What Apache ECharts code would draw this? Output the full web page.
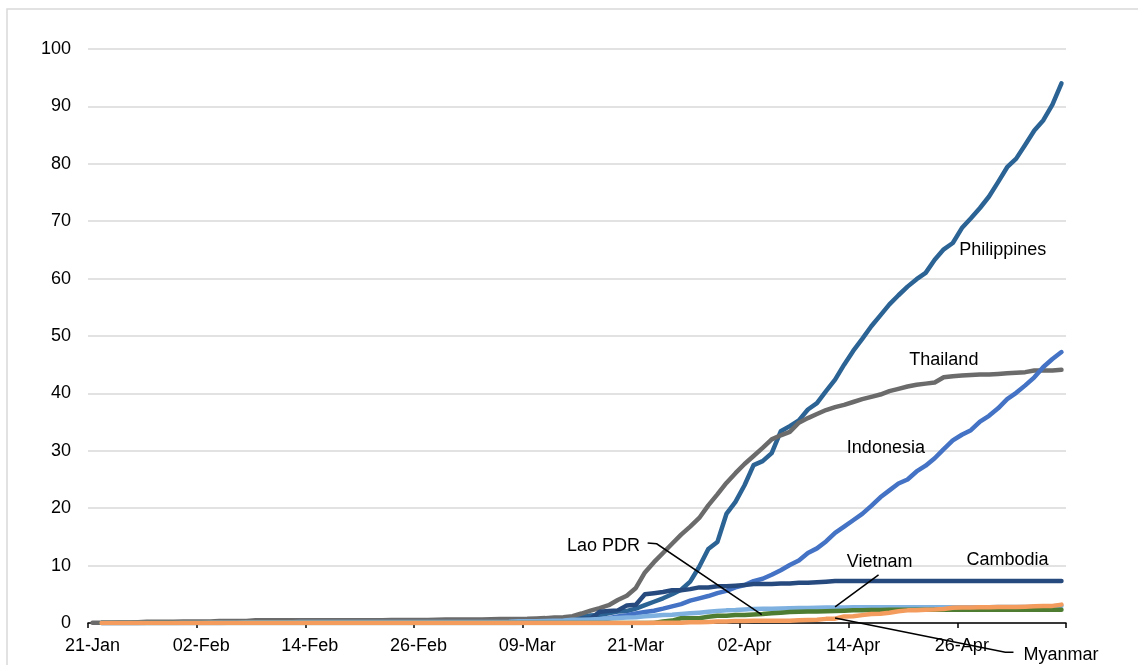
<!DOCTYPE html>
<html>
<head>
<meta charset="utf-8">
<script src="https://cdn.jsdelivr.net/npm/echarts@6/dist/echarts.min.js"></script>
<style>
html,body{margin:0;padding:0;background:#fff;}
#chart{width:1138px;height:665px;}
</style>
</head>
<body>
<div id="chart"></div>
<script>
// Categories: one per day, 21-Jan to 07-May
const dates = [
'21-Jan','22-Jan','23-Jan','24-Jan','25-Jan','26-Jan','27-Jan','28-Jan','29-Jan','30-Jan','31-Jan',
'01-Feb','02-Feb','03-Feb','04-Feb','05-Feb','06-Feb','07-Feb','08-Feb','09-Feb','10-Feb','11-Feb','12-Feb','13-Feb','14-Feb','15-Feb','16-Feb','17-Feb','18-Feb','19-Feb','20-Feb','21-Feb','22-Feb','23-Feb','24-Feb','25-Feb','26-Feb','27-Feb','28-Feb','29-Feb',
'01-Mar','02-Mar','03-Mar','04-Mar','05-Mar','06-Mar','07-Mar','08-Mar','09-Mar','10-Mar','11-Mar','12-Mar','13-Mar','14-Mar','15-Mar','16-Mar','17-Mar','18-Mar','19-Mar','20-Mar','21-Mar','22-Mar','23-Mar','24-Mar','25-Mar','26-Mar','27-Mar','28-Mar','29-Mar','30-Mar','31-Mar',
'01-Apr','02-Apr','03-Apr','04-Apr','05-Apr','06-Apr','07-Apr','08-Apr','09-Apr','10-Apr','11-Apr','12-Apr','13-Apr','14-Apr','15-Apr','16-Apr','17-Apr','18-Apr','19-Apr','20-Apr','21-Apr','22-Apr','23-Apr','24-Apr','25-Apr','26-Apr','27-Apr','28-Apr','29-Apr','30-Apr',
'01-May','02-May','03-May','04-May','05-May','06-May','07-May'
];

const yTicks = [0,10,20,30,40,50,60,70,80,90,100];

const philippines = [
null,0,0,0,0,0,0,0,0,0.01,0.01,0.01,0.02,0.02,0.02,
0.03,0.03,0.03,0.03,0.03,0.03,0.03,0.03,0.03,0.03,0.03,0.03,0.03,0.03,0.03,0.03,0.03,0.03,0.03,0.03,0.03,0.03,0.03,0.03,0.03,0.03,0.03,0.03,0.03,0.03,0.03,
0.05,0.09,0.18,0.22,0.3,0.45,0.48,0.59,1.03,1.3,1.4,1.7,2.0,2.1,
2.5,3.1,3.7,4.3,5.0,5.8,7.2,9.8,12.9,14.1,
19.0,21.1,24.0,27.5,28.2,29.6,33.4,34.3,35.3,37.2,
38.3,40.4,42.4,45.0,47.4,49.5,51.7,53.6,55.5,57.1,
58.6,59.9,61.0,63.3,65.1,66.2,68.8,70.5,72.3,74.3,
76.8,79.4,80.9,83.3,85.8,87.6,90.3,94.0
];

const thailand = [
0.06,0.06,0.06,0.07,0.07,0.12,0.2,0.2,0.2,0.2,
0.27,0.27,0.27,0.27,0.36,0.36,0.36,0.36,0.46,0.46,
0.46,0.46,0.47,0.47,0.5,0.5,0.5,0.5,0.5,0.5,
0.5,0.5,0.5,0.52,0.52,0.53,0.53,0.53,0.55,0.6,
0.6,0.62,0.62,0.63,0.66,0.68,0.71,0.71,0.72,0.77,
0.85,0.98,1.0,1.2,1.65,2.15,2.6,3.1,4.0,4.75,
6.1,8.8,10.6,12.2,13.8,15.4,16.8,18.3,20.5,22.4,
24.4,26.1,27.7,29.1,30.5,32.0,32.7,33.3,34.9,35.7,
36.4,37.1,37.6,38.0,38.5,39.0,39.4,39.8,40.4,40.8,
41.2,41.5,41.7,41.9,42.8,43.0,43.1,43.2,43.3,43.3,
43.4,43.5,43.6,43.7,44.0,44.0,44.0,44.1
];

const indonesia = [
null,0,0,0,0,0,0,0,0,0,0,0,0,0,0,0,0,0,0,0,
0,0,0,0,0,0,0,0,0,0,0,0,0,0,0,0,0,0,0,0,0,
0.01,0.01,0.01,0.01,0.01,0.01,0.02,
0.07,0.1,0.13,0.13,0.25,0.35,0.43,0.5,0.64,0.84,1.14,1.36,
1.66,1.9,2.14,2.5,2.9,3.3,3.9,4.3,4.7,5.2,
5.6,6.2,6.6,7.3,7.7,8.4,9.2,10.1,10.9,12.2,
13.0,14.2,15.7,16.8,17.9,19.0,20.4,21.9,23.1,24.3,
25.0,26.4,27.4,28.7,30.3,31.8,32.8,33.6,35.1,36.1,
37.4,39.0,40.1,41.4,42.8,44.6,46.0,47.2
];

const cambodia = [
null,0,0,0,0,0,
0.06,0.06,0.06,0.06,0.06,0.06,0.06,0.06,0.06,0.06,0.06,0.06,0.06,0.06,0.06,0.06,0.06,0.06,0.06,0.06,
0.06,0.06,0.06,0.06,0.06,0.06,0.06,0.06,0.06,0.06,0.06,0.06,0.06,0.06,0.06,0.06,0.06,0.06,0.06,0.06,
0.12,0.12,0.12,0.18,0.18,0.3,0.3,0.42,0.72,0.72,1.98,2.1,2.2,3.05,
3.17,5.0,5.2,5.4,5.7,5.7,5.9,6.2,6.2,6.4,
6.4,6.5,6.6,6.8,6.8,6.8,6.9,6.9,7.0,7.0,
7.1,7.2,
7.3,7.3,7.3,7.3,7.3,7.3,7.3,7.3,7.3,7.3,7.3,7.3,7.3,7.3,7.3,7.3,7.3,7.3,7.3,7.3,7.3,7.3,7.3,7.3,7.3,7.3
];

const vietnam = [
null,0,
0.02,0.02,0.02,0.02,0.02,0.02,0.02,0.02,0.05,
0.06,0.06,0.08,0.1,0.1,0.1,0.13,0.13,0.13,0.14,0.14,0.15,
0.16,0.16,0.16,0.16,0.16,0.16,0.16,0.16,0.16,0.16,0.16,0.16,0.16,0.16,0.16,0.16,0.16,0.16,0.16,0.16,0.16,0.16,
0.18,0.2,0.31,0.31,0.32,0.36,0.4,0.45,0.55,0.58,0.63,0.68,0.78,0.88,0.94,
1.02,1.16,1.27,1.38,1.45,1.58,1.68,1.8,1.94,2.09,
2.2,2.25,2.34,2.46,2.48,2.49,2.53,2.57,2.6,2.63,
2.66,2.68,2.7,2.72,2.75,2.75,2.75,2.76,2.76,2.76,
2.76,2.76,2.76,2.76,2.76,2.76,2.76,2.76,2.76,2.76,
2.78,2.78,2.78,2.8,2.8,2.8,2.9,2.97
];

const laoPDR = [
null,
0,0,0,0,0,0,0,0,0,0,0,0,0,0,0,0,0,0,0,0,0,0,0,0,0,0,0,0,0,0,0,
0,0,0,0,0,0,0,0,0,0,0,0,0,0,0,0,0,0,0,0,0,0,0,0,0,0,0,0,0,0,0,
0.28,0.42,0.83,0.83,0.83,1.1,1.25,
1.25,1.4,1.4,1.5,1.55,1.7,1.8,1.9,1.95,2.0,
2.0,2.05,2.1,2.15,2.2,2.2,2.25,2.25,2.3,2.3,
2.3,2.3,2.3,2.3,2.3,2.3,2.3,2.3,2.3,2.3,2.3,2.3,2.3,2.3,2.3,2.3,2.3,2.3
];

const myanmar = [
null,
0,0,0,0,0,0,0,0,0,0,0,0,0,0,0,0,0,0,0,0,0,0,0,0,0,0,0,0,0,0,0,
0,0,0,0,0,0,0,0,0,0,0,0,0,0,0,0,0,0,0,0,0,0,0,0,0,0,0,0,0,0,
0.04,0.06,0.06,0.06,0.11,0.15,0.19,0.26,
0.28,0.37,0.37,0.39,0.39,0.41,0.41,0.41,0.5,0.52,
0.56,0.72,0.76,1.15,1.17,1.37,1.57,1.63,1.8,2.05,
2.2,2.24,2.3,2.35,2.45,2.65,2.7,2.72,2.74,2.76,
2.78,2.78,2.8,2.85,2.9,2.95,2.98,3.2
];

const seriesNames  = ['Philippines','Thailand','Indonesia','Cambodia','Vietnam','Lao PDR','Myanmar'];
const seriesData   = [philippines, thailand, indonesia, cambodia, vietnam, laoPDR, myanmar];
const seriesColors = ['#2B6395','#6B6B6B','#4472C4','#274A7E','#7EB0E0','#4E7D31','#F39C5E'];

const FONT = '"Liberation Sans", Arial, sans-serif';

const chart = echarts.init(document.getElementById('chart'), null, {renderer: 'canvas'});

chart.setOption({
  animation: false,
  backgroundColor: '#ffffff',
  grid: {left: 88, right: 72, top: 49, bottom: 42, outerBoundsMode: 'none'},
  xAxis: {
    type: 'category',
    data: dates,
    boundaryGap: true,
    axisLine: {show: true, lineStyle: {color: '#000', width: 1.5}},
    axisTick: {show: true, inside: false, length: 5, interval: 11, lineStyle: {color: '#000', width: 1.5}},
    axisLabel: {interval: 11, color: '#000', fontSize: 18, fontFamily: FONT, margin: 14},
    splitLine: {show: false}
  },
  yAxis: {
    type: 'value',
    min: yTicks[0],
    max: yTicks[yTicks.length - 1],
    interval: 10,
    axisLine: {show: false},
    axisTick: {show: false},
    axisLabel: {color: '#000', fontSize: 18, fontFamily: FONT, margin: 17},
    splitLine: {show: true, lineStyle: {color: '#D9D9D9', width: 1.5}}
  },
  series: seriesNames.map((n, k) => ({
    name: n,
    type: 'line',
    data: seriesData[k],
    symbol: 'none',
    showSymbol: false,
    smooth: false,
    connectNulls: false,
    silent: true,
    lineStyle: {width: 4.5, color: seriesColors[k], cap: 'round', join: 'round'},
    itemStyle: {color: seriesColors[k]},
    emphasis: {disabled: true}
  }))
});

// Annotation placement (in data space: [day index, value])
const annotations = [
  {text: 'Philippines', at: [95.7, 65.0]},
  {text: 'Thailand',    at: [90.2, 45.8]},
  {text: 'Indonesia',   at: [83.3, 30.4]},
  {text: 'Cambodia',    at: [96.5, 10.9]},
  {text: 'Vietnam',     at: [83.3, 10.6]},
  {text: 'Lao PDR',     at: [52.4, 13.4]},
  {text: 'Myanmar',     at: [102.8, -5.5]}
];
const leaders = [
  [[86.8, 8.4], [82.0, 2.8]],
  [[61.3, 13.95], [62.3, 13.8], [73.9, 1.46]],
  [[82.0, 0.89], [100.8, -5.1], [101.7, -5.1]]
];

const x0 = chart.convertToPixel({xAxisIndex: 0}, 0);
const x1 = chart.convertToPixel({xAxisIndex: 0}, dates.length - 1);
function px(p) {
  const x = x0 + (x1 - x0) * p[0] / (dates.length - 1);
  const y = chart.convertToPixel({yAxisIndex: 0}, p[1]);
  return [x, y];
}

const graphics = [];
graphics.push({
  type: 'rect', silent: true, z: -1,
  shape: {x: 7, y: 9, width: 1200, height: 700},
  style: {fill: 'none', stroke: '#D9D9D9', lineWidth: 1.5}
});
annotations.forEach(a => {
  const p = px(a.at);
  graphics.push({
    type: 'text', silent: true, z: 100,
    x: p[0], y: p[1],
    style: {text: a.text, fill: '#000', font: '18px ' + FONT, textAlign: 'left', textVerticalAlign: 'middle', verticalAlign: 'middle'}
  });
});
leaders.forEach(l => {
  graphics.push({
    type: 'polyline', silent: true, z: 100,
    shape: {points: l.map(px)},
    style: {stroke: '#000', lineWidth: 1.5, fill: 'none'}
  });
});
chart.setOption({graphic: graphics});
</script>
</body>
</html>
